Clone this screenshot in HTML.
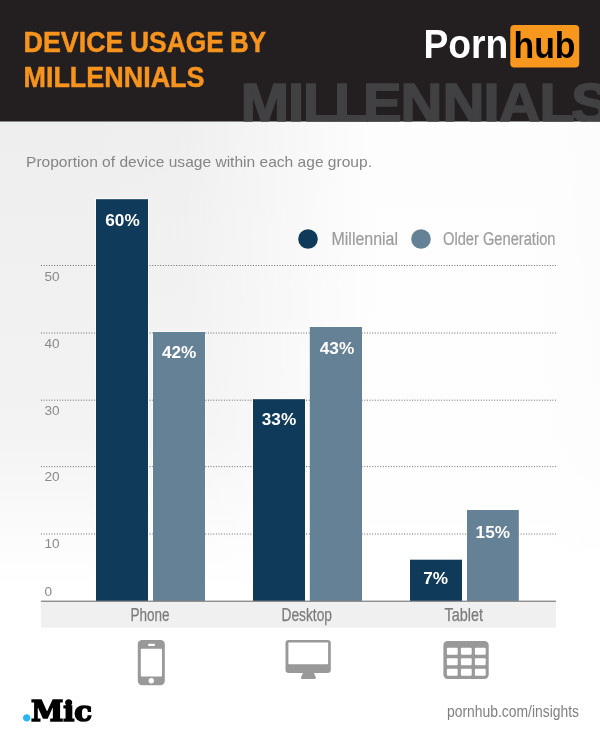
<!DOCTYPE html>
<html lang="en">
<head>
<meta charset="utf-8">
<title>Device Usage by Millennials</title>
<style>
html,body{margin:0;padding:0;background:#fff;}
body{width:600px;height:744px;overflow:hidden;font-family:"Liberation Sans",sans-serif;}
svg{display:block;}
text{font-family:"Liberation Sans",sans-serif;}
.b{font-weight:bold;}
.val{font-weight:bold;font-size:17.2px;fill:#fff;}
.ax{font-size:13.6px;fill:#8a8a8a;}
.cat{font-size:17.6px;fill:#7c7c7c;stroke:#7c7c7c;stroke-width:0.25px;}
.leg{font-size:17.6px;fill:#9c9c9c;stroke:#9c9c9c;stroke-width:0.2px;}
</style>
</head>
<body>
<svg width="600" height="744" viewBox="0 0 600 744">
  <defs>
    <linearGradient id="bg" x1="0" y1="0" x2="0" y2="1">
      <stop offset="0" stop-color="#eeeeee"/>
      <stop offset="0.5" stop-color="#f3f3f3"/>
      <stop offset="0.7" stop-color="#fdfdfd"/>
      <stop offset="0.75" stop-color="#ffffff"/>
    </linearGradient>
    <linearGradient id="bgx" x1="0" y1="0" x2="1" y2="0">
      <stop offset="0" stop-color="#fff" stop-opacity="0"/>
      <stop offset="0.3" stop-color="#fff" stop-opacity="0.05"/>
      <stop offset="0.62" stop-color="#fff" stop-opacity="0.9"/>
      <stop offset="0.9" stop-color="#fff" stop-opacity="0.9"/>
      <stop offset="1" stop-color="#fff" stop-opacity="0.8"/>
    </linearGradient>
    <clipPath id="hd"><rect x="0" y="0" width="600" height="121.5"/></clipPath>
  </defs>

  <!-- page background -->
  <rect x="0" y="121" width="600" height="623" fill="url(#bg)"/>
  <rect x="0" y="121" width="600" height="623" fill="url(#bgx)"/>

  <!-- header -->
  <rect x="0" y="0" width="600" height="121.5" fill="#231f20"/>
  <g clip-path="url(#hd)">
    <text transform="scale(1.062,1)" x="226.69 271.14 285.26 314.45 341.85 377.21 416.76 455.23 469.73 507.96 537.81" y="121.6" class="b" font-size="54.6" fill="#414042" stroke="#414042" stroke-width="1.65" stroke-linejoin="miter">MILLENNIALS</text>
  </g>
  <g class="b" font-size="29.7" fill="#f7941e" stroke="#f7941e" stroke-width="0.5">
    <text x="23.5" y="51.8" textLength="100" lengthAdjust="spacingAndGlyphs">DEVICE</text>
    <text x="130" y="51.8" textLength="94" lengthAdjust="spacingAndGlyphs">USAGE</text>
    <text x="230" y="51.8" textLength="36" lengthAdjust="spacingAndGlyphs">BY</text>
    <text x="23.5" y="87.4" textLength="181" lengthAdjust="spacingAndGlyphs">MILLENNIALS</text>
  </g>

  <!-- logo -->
  <text x="423.4" y="58" class="b" font-size="40.2" fill="#fff" textLength="84.8" lengthAdjust="spacingAndGlyphs">Porn</text>
  <rect x="510.3" y="25" width="68.9" height="42.5" rx="4" ry="4" fill="#f7971d"/>
  <text x="513.5" y="58.2" class="b" font-size="37" fill="#000" textLength="62" lengthAdjust="spacingAndGlyphs">hub</text>

  <!-- subtitle -->
  <text x="26" y="166.7" font-size="15" fill="#858585" textLength="346" lengthAdjust="spacingAndGlyphs">Proportion of device usage within each age group.</text>

  <!-- soft halo behind bars -->
  <g fill="none" stroke="#fff" stroke-opacity="0.55" stroke-width="2">
    <rect x="96" y="199.2" width="52" height="401.8"/>
    <rect x="253" y="399.2" width="52" height="201.8"/>
    <rect x="410" y="559.7" width="52" height="41.3"/>
    <rect x="153" y="332" width="52" height="269"/>
    <rect x="309.8" y="327" width="52.2" height="274"/>
    <rect x="467" y="510" width="51.8" height="91"/>
  </g>

  <!-- grid -->
  <g stroke="#6c6c6c" stroke-width="1" stroke-dasharray="1 1.65" fill="none">
    <line x1="41" y1="265.5" x2="556" y2="265.5"/>
    <line x1="41" y1="333" x2="556" y2="333"/>
    <line x1="41" y1="400.2" x2="556" y2="400.2"/>
    <line x1="41" y1="466.6" x2="556" y2="466.6"/>
    <line x1="41" y1="534" x2="556" y2="534"/>
  </g>
  <g class="ax">
    <text x="44.5" y="280.5" class="ax">50</text>
    <text x="44.5" y="347.5" class="ax">40</text>
    <text x="44.5" y="414.6" class="ax">30</text>
    <text x="44.5" y="481.4" class="ax">20</text>
    <text x="44.5" y="548.4" class="ax">10</text>
    <text x="44.5" y="596.4" class="ax">0</text>
  </g>

  <!-- axis band -->
  <rect x="41" y="601" width="515" height="26.7" fill="#f0f0f0"/>

  <!-- bars -->
  <g fill="#0f3a59">
    <rect x="96" y="199.2" width="52" height="401.8"/>
    <rect x="253" y="399.2" width="52" height="201.8"/>
    <rect x="410" y="559.7" width="52" height="41.3"/>
  </g>
  <g fill="#658196">
    <rect x="153" y="332" width="52" height="269"/>
    <rect x="309.8" y="327" width="52.2" height="274"/>
    <rect x="467" y="510" width="51.8" height="91"/>
  </g>
  <rect x="41" y="600.6" width="515" height="1.3" fill="#868686"/>
  <g class="val" text-anchor="middle">
    <text x="122.5" y="226">60%</text>
    <text x="179.2" y="358.1">42%</text>
    <text x="279" y="424.8">33%</text>
    <text x="337" y="354">43%</text>
    <text x="435.6" y="584.3">7%</text>
    <text x="492.8" y="537.8">15%</text>
  </g>

  <!-- legend -->
  <circle cx="308" cy="239" r="9.8" fill="#0f3a59"/>
  <text x="331.5" y="245" class="leg" textLength="66.5" lengthAdjust="spacingAndGlyphs">Millennial</text>
  <circle cx="421" cy="239" r="9.8" fill="#658196"/>
  <text x="443" y="245" class="leg" textLength="112.5" lengthAdjust="spacingAndGlyphs">Older Generation</text>

  <!-- categories -->
  <text x="130.5" y="620.6" class="cat" textLength="39" lengthAdjust="spacingAndGlyphs">Phone</text>
  <text x="281.5" y="620.6" class="cat" textLength="50.5" lengthAdjust="spacingAndGlyphs">Desktop</text>
  <text x="444.5" y="620.6" class="cat" textLength="38.5" lengthAdjust="spacingAndGlyphs">Tablet</text>

  <!-- icons -->
  <g fill="#999">
    <!-- phone -->
    <rect x="137.8" y="640" width="27" height="45.3" rx="4.2"/>
    <!-- monitor -->
    <rect x="285.5" y="640" width="45.3" height="33" rx="3.2"/>
    <path d="M303.2 672.5 L313.8 672.5 L315.8 677.6 Q316 679 314.6 679 L302.2 679 Q300.8 679 301 677.6 Z"/>
    <!-- table -->
    <rect x="443.4" y="641.1" width="45.3" height="37.9" rx="4.2"/>
  </g>
  <g fill="#fff">
    <rect x="140.8" y="648.8" width="21.2" height="27.7" rx="0.8"/>
    <rect x="148" y="643.8" width="7" height="2.2" rx="1.1"/>
    <circle cx="151.3" cy="680.8" r="2.7"/>
    <rect x="288.4" y="642.6" width="39.7" height="21.6" rx="0.6"/>
    <g>
      <rect x="446.9" y="647.7" width="10.8" height="7" rx="1"/>
      <rect x="460.9" y="647.7" width="10.8" height="7" rx="1"/>
      <rect x="474.9" y="647.7" width="10.8" height="7" rx="1"/>
      <rect x="446.9" y="658.2" width="10.8" height="7" rx="1"/>
      <rect x="460.9" y="658.2" width="10.8" height="7" rx="1"/>
      <rect x="474.9" y="658.2" width="10.8" height="7" rx="1"/>
      <rect x="446.9" y="668.8" width="10.8" height="7" rx="1"/>
      <rect x="460.9" y="668.8" width="10.8" height="7" rx="1"/>
      <rect x="474.9" y="668.8" width="10.8" height="7" rx="1"/>
    </g>
  </g>

  <!-- footer -->
  <text x="19.77" y="721.44" style="font-family:'DejaVu Serif','Liberation Serif',serif;font-weight:bold" font-size="39.8" fill="#29b6f6">.</text>
  <text x="30.9" y="720.6" style="font-family:'DejaVu Serif','Liberation Serif',serif;font-weight:bold" font-size="27.2" fill="#000" stroke="#000" stroke-width="1.6" stroke-linejoin="miter" textLength="61.2" lengthAdjust="spacingAndGlyphs">Mic</text>
  <text x="447" y="717.2" font-size="15.6" fill="#808080" textLength="132" lengthAdjust="spacingAndGlyphs">pornhub.com/insights</text>
</svg>
</body>
</html>
